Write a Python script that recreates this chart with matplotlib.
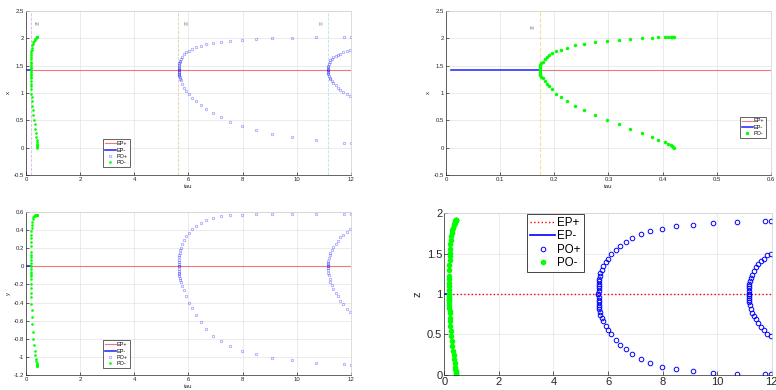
import matplotlib
matplotlib.use("Agg")
import matplotlib.pyplot as plt
from matplotlib.ticker import FormatStrFormatter

plt.rcParams["font.family"] = ["Liberation Sans", "DejaVu Sans"]

# equilibrium branches (EP- stable part, EP+ after the first Hopf point)
ep_minus_tau = [0.01, 0.173]
ep_plus_tau = [0.173, 12.0]
x_eq = 1.414
y_eq = 0.0
z_eq = 1.0

# periodic orbits born at tau ~ 0.173 (PO-)
pom_tau = [0.1730, 0.1732, 0.1737, 0.1745, 0.1760, 0.1785, 0.1822, 0.1859,
           0.1901, 0.1957, 0.2025, 0.2117, 0.2240, 0.2381, 0.2553, 0.2751,
           0.2966, 0.3188, 0.3397, 0.3612, 0.3797, 0.3920, 0.4043, 0.4100,
           0.4150, 0.4180, 0.4200, 0.4215]
pom_xmax = [1.414, 1.45, 1.48, 1.51, 1.54, 1.56, 1.62, 1.66, 1.70, 1.73, 1.76,
            1.79, 1.83, 1.87, 1.90, 1.93, 1.95, 1.97, 1.99, 2.00, 2.01, 2.02,
            2.03, 2.03, 2.03, 2.03, 2.03, 2.03]
pom_xmin = [1.414, 1.38, 1.35, 1.33, 1.30, 1.27, 1.22, 1.17, 1.12, 1.07, 0.99,
            0.93, 0.85, 0.77, 0.68, 0.60, 0.51, 0.43, 0.35, 0.27, 0.20, 0.14,
            0.10, 0.07, 0.05, 0.03, 0.015, 0.0]
pom_ymax = [0.0, 0.04, 0.07, 0.10, 0.13, 0.16, 0.22, 0.27, 0.31, 0.35, 0.39,
            0.42, 0.46, 0.49, 0.52, 0.54, 0.55, 0.56, 0.565, 0.57, 0.57, 0.57,
            0.57, 0.57, 0.57, 0.57, 0.57, 0.57]
pom_ymin = [0.0, -0.03, -0.06, -0.08, -0.11, -0.14, -0.19, -0.24, -0.29, -0.34,
            -0.42, -0.48, -0.56, -0.64, -0.72, -0.80, -0.87, -0.93, -0.98,
            -1.02, -1.05, -1.07, -1.08, -1.09, -1.095, -1.10, -1.10, -1.10]
pom_zmax = [1.0, 1.05, 1.10, 1.14, 1.19, 1.22, 1.30, 1.36, 1.42, 1.47, 1.51,
            1.56, 1.62, 1.67, 1.72, 1.76, 1.79, 1.82, 1.85, 1.87, 1.88, 1.90,
            1.91, 1.915, 1.92, 1.92, 1.92, 1.92]
pom_zmin = [1.0, 0.976, 0.955, 0.94, 0.92, 0.90, 0.86, 0.83, 0.79, 0.76, 0.70,
            0.66, 0.60, 0.54, 0.48, 0.42, 0.36, 0.30, 0.25, 0.19, 0.14, 0.10,
            0.07, 0.05, 0.035, 0.02, 0.01, 0.0]

# periodic orbits born at tau ~ 5.65 (PO+, first branch)
pop1_tau = [5.650, 5.651, 5.653, 5.656, 5.661, 5.668, 5.678, 5.692, 5.72,
            5.77, 5.83, 5.91, 6.01, 6.12, 6.28, 6.45, 6.65, 6.89, 7.20, 7.54,
            7.96, 8.49, 9.10, 9.83, 10.71, 11.74, 11.99]
pop1_xmax = [1.414, 1.44, 1.465, 1.49, 1.515, 1.54, 1.565, 1.59, 1.616, 1.665,
             1.707, 1.744, 1.774, 1.811, 1.842, 1.866, 1.891, 1.915, 1.939,
             1.957, 1.976, 1.988, 2.000, 2.012, 2.019, 2.024, 2.024]
pop1_xmin = [1.414, 1.39, 1.37, 1.35, 1.33, 1.31, 1.29, 1.265, 1.238, 1.165,
             1.097, 1.037, 0.976, 0.915, 0.848, 0.781, 0.707, 0.634, 0.555,
             0.476, 0.402, 0.323, 0.256, 0.190, 0.135, 0.092, 0.086]
pop1_ymax = [0.0, 0.025, 0.05, 0.075, 0.10, 0.125, 0.15, 0.175, 0.20, 0.25,
             0.29, 0.33, 0.37, 0.41, 0.45, 0.48, 0.51, 0.532, 0.551, 0.562,
             0.569, 0.573, 0.574, 0.575, 0.575, 0.575, 0.575]
pop1_ymin = [0.0, -0.025, -0.05, -0.07, -0.09, -0.11, -0.13, -0.15, -0.175,
             -0.215, -0.26, -0.33, -0.40, -0.46, -0.54, -0.61, -0.69, -0.77,
             -0.83, -0.88, -0.93, -0.97, -1.01, -1.04, -1.065, -1.083, -1.087]
pop1_zmax = [1.0, 1.04, 1.07, 1.10, 1.13, 1.16, 1.19, 1.22, 1.26, 1.30, 1.35,
             1.40, 1.44, 1.49, 1.54, 1.60, 1.65, 1.70, 1.75, 1.78, 1.81, 1.84,
             1.86, 1.88, 1.89, 1.90, 1.90]
pop1_zmin = [1.0, 0.96, 0.93, 0.90, 0.87, 0.84, 0.81, 0.78, 0.74, 0.70, 0.66,
             0.60, 0.55, 0.50, 0.43, 0.37, 0.32, 0.26, 0.20, 0.145, 0.10, 0.07,
             0.04, 0.025, 0.013, 0.005, 0.005]

# periodic orbits born at tau ~ 11.15 (PO+, second branch)
pop2_tau = [11.150, 11.152, 11.156, 11.163, 11.18, 11.21, 11.24, 11.29, 11.35,
            11.43, 11.51, 11.61, 11.72, 11.84, 11.98]
pop2_xmax = [1.414, 1.44, 1.47, 1.50, 1.53, 1.57, 1.60, 1.625, 1.65, 1.675,
             1.70, 1.72, 1.745, 1.77, 1.785]
pop2_xmin = [1.414, 1.39, 1.36, 1.34, 1.31, 1.28, 1.26, 1.22, 1.18, 1.14, 1.10,
             1.06, 1.02, 0.98, 0.94]
pop2_ymax = [0.0, 0.02, 0.04, 0.06, 0.09, 0.12, 0.15, 0.18, 0.21, 0.25, 0.28,
             0.32, 0.35, 0.38, 0.41]
pop2_ymin = [0.0, -0.02, -0.045, -0.07, -0.10, -0.14, -0.17, -0.21, -0.25,
             -0.29, -0.33, -0.38, -0.42, -0.47, -0.51]
pop2_zmax = [1.0, 1.04, 1.08, 1.10, 1.12, 1.16, 1.20, 1.24, 1.28, 1.33, 1.37,
             1.41, 1.44, 1.48, 1.50]
pop2_zmin = [1.0, 0.98, 0.95, 0.93, 0.905, 0.86, 0.81, 0.77, 0.73, 0.69, 0.64,
             0.59, 0.55, 0.51, 0.48]

# Hopf markers and labels
hopf_tau = [0.173, 5.60, 11.15]
hopf_colors = ["#dcb6ec", "#ddd09c", "#b6e2ee"]
hopf_labels = ["(a)", "(b)", "(c)"]
hopf_label_tau = [0.43, 5.9, 10.9]

DARK = "#262626"
RED_LIGHT = "#f07878"
BLUE = "#3030ff"
GREEN = "#00ff00"


def matlab_style(ax, fs, tick_len=2.0):
    ax.grid(True, color="#e3e3e3", linewidth=0.5)
    ax.set_axisbelow(True)
    for side, sp in ax.spines.items():
        sp.set_linewidth(0.5)
        sp.set_color(DARK if side in ("left", "bottom") else "#cfcfcf")
    ax.tick_params(direction="in", length=tick_len, width=0.5, labelsize=fs,
                   colors=DARK, pad=1.5)
    ax.yaxis.set_major_formatter(FormatStrFormatter("%g"))
    ax.xaxis.set_major_formatter(FormatStrFormatter("%g"))


def small_legend(ax, handles, labels, anchor, loc="lower left", fs=4.0):
    leg = ax.legend(handles, labels, loc=loc, bbox_to_anchor=anchor,
                    fontsize=fs, handlelength=2.0, handletextpad=0.2,
                    borderpad=0.3, labelspacing=0.25, borderaxespad=0,
                    fancybox=False, framealpha=1, edgecolor=DARK)
    leg.get_frame().set_linewidth(0.5)
    return leg


def draw_po_plus(ax, tau, vmax, vmin, ms, mew, color, alpha):
    h, = ax.plot(tau, vmax, "o", ms=ms, mfc="none", mec=color, mew=mew,
                 alpha=alpha)
    ax.plot(tau, vmin, "o", ms=ms, mfc="none", mec=color, mew=mew, alpha=alpha)
    return h


fig = plt.figure(figsize=(7.76, 3.90), dpi=100)
fs_small = 4.3

# ---------------- top left: x vs tau ----------------
ax1 = fig.add_axes([0.0335, 0.5513, 0.4188, 0.4205])
matlab_style(ax1, fs_small)
for t, c in zip(hopf_tau, hopf_colors):
    ax1.axvline(t, color=c, ls="--", lw=0.6)
for t, lab in zip(hopf_label_tau, hopf_labels):
    ax1.text(t, 2.27, lab, fontsize=2.8, color="#555555", ha="center",
             va="center")
h_epp, = ax1.plot(ep_plus_tau, [x_eq, x_eq], color=RED_LIGHT, lw=0.8)
h_epm, = ax1.plot(ep_minus_tau, [x_eq, x_eq], color=BLUE, lw=1.2)
h_pop = draw_po_plus(ax1, pop1_tau, pop1_xmax, pop1_xmin, 1.8, 0.5, "b", 0.4)
draw_po_plus(ax1, pop2_tau, pop2_xmax, pop2_xmin, 1.8, 0.5, "b", 0.4)
h_pom, = ax1.plot(pom_tau, pom_xmax, "o", ms=1.9, color=GREEN, mec="none")
ax1.plot(pom_tau, pom_xmin, "o", ms=1.9, color=GREEN, mec="none")
ax1.set_xlim(0, 12)
ax1.set_ylim(-0.5, 2.5)
ax1.set_xticks(range(0, 13, 2))
ax1.set_yticks([-0.5, 0, 0.5, 1, 1.5, 2, 2.5])
ax1.set_xlabel("tau", fontsize=fs_small, color=DARK, labelpad=1.5)
ax1.set_ylabel("x", fontsize=fs_small, color=DARK, labelpad=2)
small_legend(ax1, [h_epp, h_epm, h_pop, h_pom], ["EP+", "EP-", "PO+", "PO-"],
             (0.237, 0.049))

# ---------------- top right: zoom on the first Hopf point ----------------
ax2 = fig.add_axes([0.5747, 0.5513, 0.4188, 0.4205])
matlab_style(ax2, fs_small)
ax2.axvline(hopf_tau[0], color="#f3dfa0", ls="--", lw=0.8)
ax2.text(0.16, 2.19, hopf_labels[0], fontsize=2.8, color="#555555",
         ha="center", va="center")
h_epp2, = ax2.plot(ep_plus_tau, [x_eq, x_eq], color=RED_LIGHT, lw=0.8)
h_epm2, = ax2.plot(ep_minus_tau, [x_eq, x_eq], color=BLUE, lw=1.2)
h_pom2, = ax2.plot(pom_tau, pom_xmax, "o", ms=2.5, color=GREEN, mec="none")
ax2.plot(pom_tau, pom_xmin, "o", ms=2.5, color=GREEN, mec="none")
ax2.set_xlim(0, 0.6)
ax2.set_ylim(-0.5, 2.5)
ax2.set_xticks([0, 0.1, 0.2, 0.3, 0.4, 0.5, 0.6])
ax2.set_yticks([-0.5, 0, 0.5, 1, 1.5, 2, 2.5])
ax2.set_xlabel("tau", fontsize=fs_small, color=DARK, labelpad=1.5)
ax2.set_ylabel("x", fontsize=fs_small, color=DARK, labelpad=2)
small_legend(ax2, [h_epp2, h_epm2, h_pom2], ["EP+", "EP-", "PO-"],
             (0.905, 0.226))

# ---------------- bottom left: y vs tau ----------------
ax3 = fig.add_axes([0.0335, 0.0385, 0.4188, 0.418])
matlab_style(ax3, fs_small)
h_epp3, = ax3.plot(ep_plus_tau, [y_eq, y_eq], color=RED_LIGHT, lw=0.8)
h_epm3, = ax3.plot(ep_minus_tau, [y_eq, y_eq], color=BLUE, lw=1.2)
h_pop3 = draw_po_plus(ax3, pop1_tau, pop1_ymax, pop1_ymin, 1.8, 0.5, "b", 0.4)
draw_po_plus(ax3, pop2_tau, pop2_ymax, pop2_ymin, 1.8, 0.5, "b", 0.4)
h_pom3, = ax3.plot(pom_tau, pom_ymax, "o", ms=1.9, color=GREEN, mec="none")
ax3.plot(pom_tau, pom_ymin, "o", ms=1.9, color=GREEN, mec="none")
ax3.set_xlim(0, 12)
ax3.set_ylim(-1.2, 0.6)
ax3.set_xticks(range(0, 13, 2))
ax3.set_yticks([-1.2, -1, -0.8, -0.6, -0.4, -0.2, 0, 0.2, 0.4, 0.6])
ax3.set_xlabel("tau", fontsize=fs_small, color=DARK, labelpad=1.5)
ax3.set_ylabel("y", fontsize=fs_small, color=DARK, labelpad=2)
small_legend(ax3, [h_epp3, h_epm3, h_pop3, h_pom3],
             ["EP+", "EP-", "PO+", "PO-"], (0.237, 0.043))

# ---------------- bottom right: z vs tau (larger fonts) ----------------
ax4 = fig.add_axes([0.5726, 0.0392, 0.4219, 0.4138])
matlab_style(ax4, 8, tick_len=3)
h_epp4, = ax4.plot(ep_plus_tau, [z_eq, z_eq], color="red", ls=":", lw=1.0)
h_epm4, = ax4.plot(ep_minus_tau, [z_eq, z_eq], color="blue", lw=1.2)
h_pop4 = draw_po_plus(ax4, pop1_tau, pop1_zmax, pop1_zmin, 3.3, 0.7, "blue", 1)
draw_po_plus(ax4, pop2_tau, pop2_zmax, pop2_zmin, 3.3, 0.7, "blue", 1)
h_pom4, = ax4.plot(pom_tau, pom_zmax, "o", ms=4.0, color=GREEN, mec="none")
ax4.plot(pom_tau, pom_zmin, "o", ms=4.0, color=GREEN, mec="none")
ax4.set_xlim(0, 12)
ax4.set_ylim(0, 2)
ax4.set_xticks(range(0, 13, 2))
ax4.set_yticks([0, 0.5, 1, 1.5, 2])
ax4.set_ylabel("z", fontsize=8, color=DARK, labelpad=3)
leg4 = ax4.legend([h_epp4, h_epm4, h_pop4, h_pom4],
                  ["EP+", "EP-", "PO+", "PO-"], loc="upper left",
                  bbox_to_anchor=(0.253, 0.996), fontsize=8.3,
                  handlelength=2.2, handletextpad=0.15, borderpad=0.25,
                  labelspacing=0.12, borderaxespad=0, fancybox=False,
                  framealpha=1, edgecolor=DARK)
leg4.get_frame().set_linewidth(0.6)

fig.savefig("out.png", dpi=100)
